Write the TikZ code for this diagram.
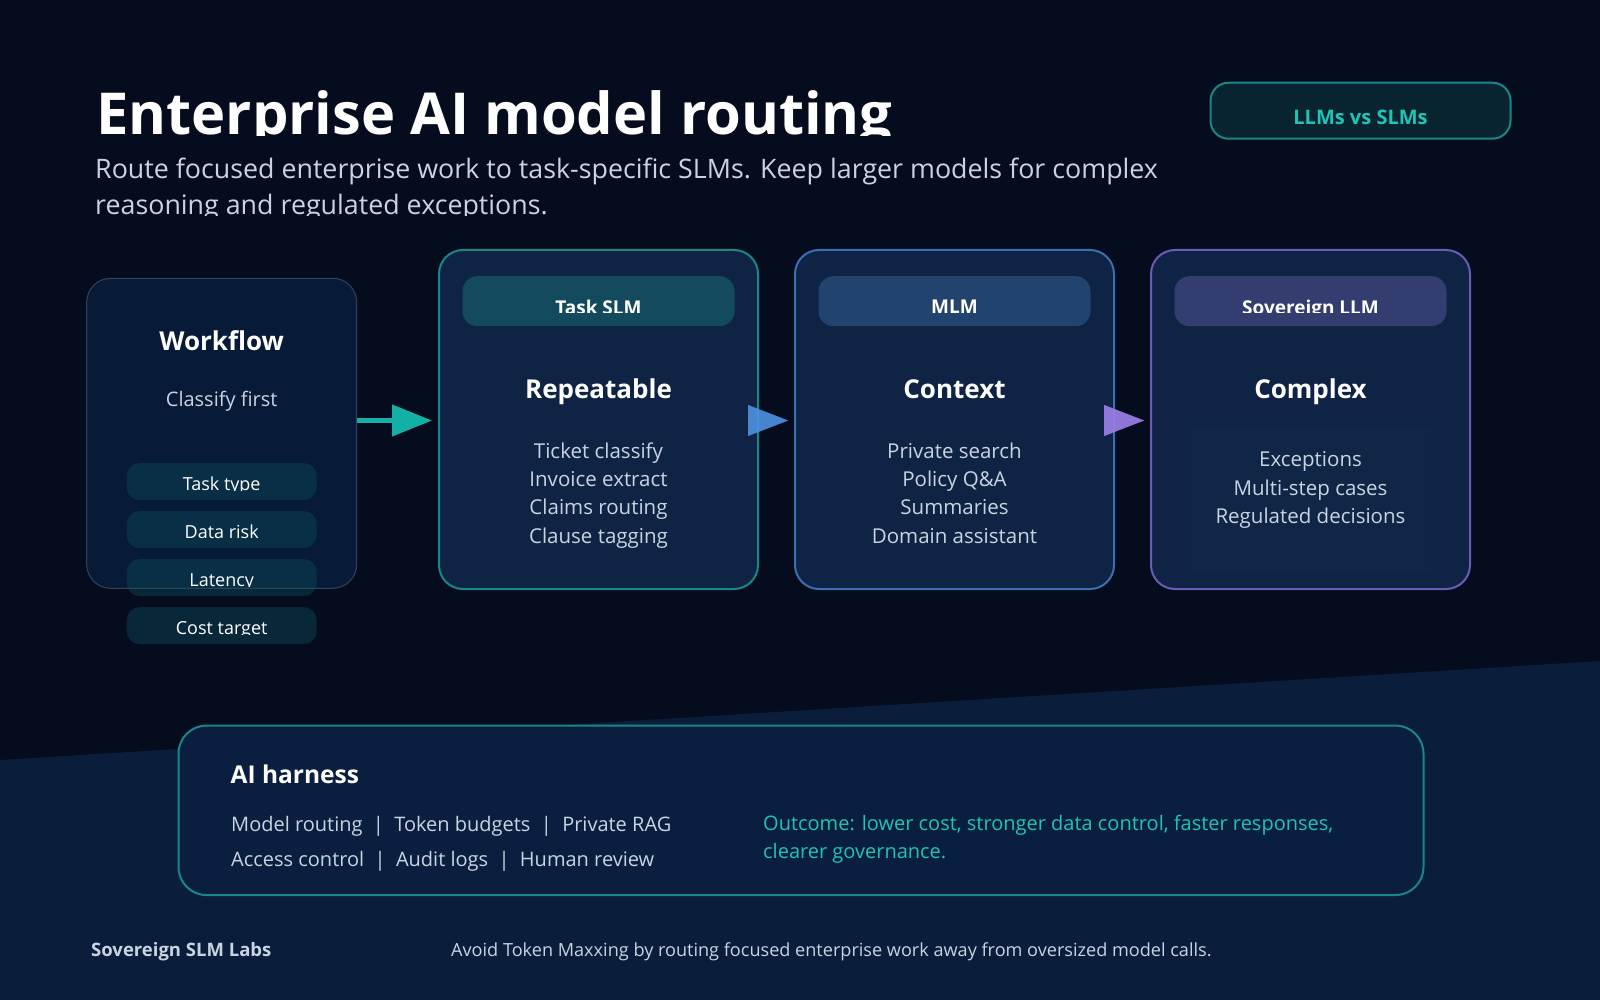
\documentclass[tikz,border=0pt]{standalone}
\usepackage{fontspec}
\setmainfont{Open Sans}
\usetikzlibrary{arrows.meta,positioning,calc}

\definecolor{bgtop}{HTML}{050C1E}
\definecolor{bgband}{HTML}{0A1D3A}
\definecolor{wffill}{HTML}{071A37}
\definecolor{wfline}{HTML}{34435A}
\definecolor{cardfill}{HTML}{0F2444}
\definecolor{innerfill}{HTML}{102647}
\definecolor{tealline}{HTML}{1A8686}
\definecolor{blueline}{HTML}{3C6FB0}
\definecolor{purpleline}{HTML}{6A5BB5}
\definecolor{tealhead}{HTML}{134A5E}
\definecolor{bluehead}{HTML}{22436E}
\definecolor{purplehead}{HTML}{333D70}
\definecolor{pillteal}{HTML}{0D505F}
\definecolor{softtext}{HTML}{C9D4E2}
\definecolor{tealtext}{HTML}{20C4B4}
\definecolor{tealarrow}{HTML}{14B0A6}
\definecolor{bluearrow}{HTML}{4C8FE0}
\definecolor{purplearrow}{HTML}{9B7FE6}
\definecolor{badgefill}{HTML}{082430}
\definecolor{harnessfill}{HTML}{0A1F3F}

\begin{document}
\begin{tikzpicture}[
  x=1pt, y=-1pt,
  title/.style={text=white, inner sep=0pt, font=\bfseries\fontsize{57.8}{62}\selectfont},
  subtitle/.style={text=softtext, inner sep=0pt, font=\fontsize{26.8}{30}\selectfont},
  badge/.style={draw=tealline, line width=2pt, fill=badgefill, rounded corners=18pt,
    minimum width=300pt, minimum height=56pt},
  badgetext/.style={text=tealtext, inner sep=0pt, font=\bfseries\fontsize{20}{24}\selectfont},
  wfbox/.style={draw=wfline, line width=1pt, fill=wffill, rounded corners=24pt,
    minimum width=270pt, minimum height=310pt},
  pill/.style={fill=pillteal, fill opacity=0.4, text opacity=1, rounded corners=13pt,
    minimum width=190pt, minimum height=37pt},
  pilltext/.style={text=white, inner sep=0pt, font=\fontsize{18}{20}\selectfont},
  card/.style={line width=2pt, fill=cardfill, rounded corners=24pt,
    minimum width=319pt, minimum height=339pt},
  head/.style={rounded corners=15pt, minimum width=272pt, minimum height=50pt},
  headtext/.style={text=white, inner sep=0pt, font=\bfseries\fontsize{19}{22}\selectfont},
  heading/.style={text=white, inner sep=0pt, font=\bfseries\fontsize{26}{30}\selectfont},
  item/.style={text=softtext, inner sep=0pt, font=\fontsize{20.5}{24}\selectfont},
  flowarr/.style={-{Triangle[length=40pt,width=31pt]}, line width=4.3pt},
  steparr/.style={-{Triangle[length=40pt,width=31pt]}, line width=0.1pt, opacity=0.92},
  node distance=35pt,
]

% Background
\fill[bgtop] (0,0) rectangle (1600,1000);
\fill[bgband] (0,760) -- (1600,661) -- (1600,1000) -- (0,1000) -- cycle;
\useasboundingbox (0,0) rectangle (1600,1000);

% Title and subtitle
\begin{scope}
  \clip (0,0) rectangle (1600,136);
  \node[title, anchor=base west] (title) at (96,135) {Enterprise AI model routing};
\end{scope}
\node[subtitle, anchor=base west] (sub1) at (95,178.5)
  {Route focused enterprise work to task-specific SLMs. Keep larger models for complex};
\begin{scope}
  \clip (0,185) rectangle (1600,216);
  \node[subtitle, anchor=base west] (sub2) at (95,214.5) {reasoning and regulated exceptions.};
\end{scope}

% Badge
\node[badge] (badge) at (1360.5,110.7) {};
\node[badgetext, anchor=base] (badgelbl) at (1360.5,125) {LLMs vs SLMs};

% Workflow
\node[wfbox] (wf) at (221.7,433.3) {};
\node[heading, anchor=base] (wftitle) at (221.7,350) {Workflow};
\node[subtitle, anchor=base, font=\fontsize{20}{24}\selectfont] (wfsub) at (221.7,406) {Classify first};
\foreach \txt [count=\i] in {Task type,Data risk,Latency,Cost target} {
  \node[pill] (pill\i) at (221.7,433.6+48*\i) {};
  \begin{scope}
    \clip (pill\i.north west) rectangle ($(pill\i.east)+(0,9.3)$);
    \node[pilltext, anchor=base] (pilllbl\i) at ($(pill\i.center)+(0,9.3)$) {\txt};
  \end{scope}
}

% Model cards
\node[card, draw=tealline] (tslm) at (598.5,419.5) {};
\node[card, draw=blueline, right=of tslm] (mlm) {};
\node[card, draw=purpleline, right=of mlm] (sllm) {};

\node[head, fill=tealhead, below=27pt of tslm.north] (tslmhead) {};
\node[head, fill=bluehead, below=27pt of mlm.north] (mlmhead) {};
\node[head, fill=purplehead, below=27pt of sllm.north] (sllmhead) {};

\begin{scope}
  \clip (tslmhead.north west) rectangle ($(tslmhead.east)+(0,11.5)$);
  \node[headtext, anchor=base] (tslmname) at ($(tslmhead.center)+(0,13)$) {Task SLM};
\end{scope}
\begin{scope}
  \clip (mlmhead.north west) rectangle ($(mlmhead.east)+(0,12.5)$);
  \node[headtext, anchor=base] (mlmname) at ($(mlmhead.center)+(0,12.5)$) {MLM};
\end{scope}
\begin{scope}
  \clip (sllmhead.north west) rectangle ($(sllmhead.east)+(0,11.5)$);
  \node[headtext, anchor=base] (sllmname) at ($(sllmhead.center)+(0,13)$) {Sovereign LLM};
\end{scope}

\node[heading, anchor=base] (tslmtitle) at ($(tslm.north)+(0,149.3)$) {Repeatable};
\node[heading, anchor=base] (mlmtitle) at ($(mlm.north)+(0,149.3)$) {Context};
\node[heading, anchor=base] (sllmtitle) at ($(sllm.north)+(0,149.3)$) {Complex};

\foreach \txt [count=\i] in {Ticket classify,Invoice extract,Claims routing,Clause tagging}
  \node[item, anchor=base] (tslmitem\i) at ($(tslm.north)+(0,181+28.3*\i)$) {\txt};
\foreach \txt [count=\i] in {Private search,Policy Q\&A,Summaries,Domain assistant}
  \node[item, anchor=base] (mlmitem\i) at ($(mlm.north)+(0,181+28.3*\i)$) {\txt};

\node[fill=innerfill, minimum width=240pt, minimum height=146pt, below=177pt of sllm.north] (sllminner) {};
\foreach \txt [count=\i] in {Exceptions,Multi-step cases,Regulated decisions}
  \node[item, anchor=base] (sllmitem\i) at ($(sllm.north)+(0,189.5+28.3*\i)$) {\txt};

% Arrows
\draw[flowarr, tealarrow, shorten >=6pt] ([yshift=-1pt]wf.east |- tslm.west) -- ([yshift=-1pt]tslm.west);
\draw[steparr, bluearrow] ([xshift=-10pt,yshift=-1pt]tslm.east) -- ([xshift=-6pt,yshift=-1pt]mlm.west);
\draw[steparr, purplearrow] ([xshift=-10pt,yshift=-1pt]mlm.east) -- ([xshift=-6pt,yshift=-1pt]sllm.west);

% AI harness
\node[draw=tealline, line width=2pt, fill=harnessfill, rounded corners=28pt,
  minimum width=1245pt, minimum height=169.5pt] (harness) at (801,810.3) {};
\node[heading, anchor=base west, font=\bfseries\fontsize{24.5}{28}\selectfont] (harnesstitle) at (230.5,783.7) {AI harness};
\node[item, anchor=base west, font=\fontsize{20}{24}\selectfont] (harness1) at (231,831.6)
  {Model routing \ | \ Token budgets \ | \ Private RAG};
\node[item, anchor=base west, font=\fontsize{20}{24}\selectfont] (harness2) at (231,866.4)
  {Access control \ | \ Audit logs \ | \ Human review};
\node[item, anchor=base west, text=tealtext, font=\fontsize{20}{24}\selectfont] (outcome1) at (763,830.6)
  {Outcome: lower cost, stronger data control, faster responses,};
\node[item, anchor=base west, text=tealtext, font=\fontsize{20}{24}\selectfont] (outcome2) at (763,858.2)
  {clearer governance.};

% Footer
\node[anchor=base west, inner sep=0pt, text=softtext, font=\bfseries\fontsize{18.5}{22}\selectfont] (brand) at (91,956) {Sovereign SLM Labs};
\node[anchor=base west, inner sep=0pt, text=softtext, font=\fontsize{18.1}{21}\selectfont] (tagline) at (451,956)
  {Avoid Token Maxxing by routing focused enterprise work away from oversized model calls.};

\end{tikzpicture}
\end{document}
